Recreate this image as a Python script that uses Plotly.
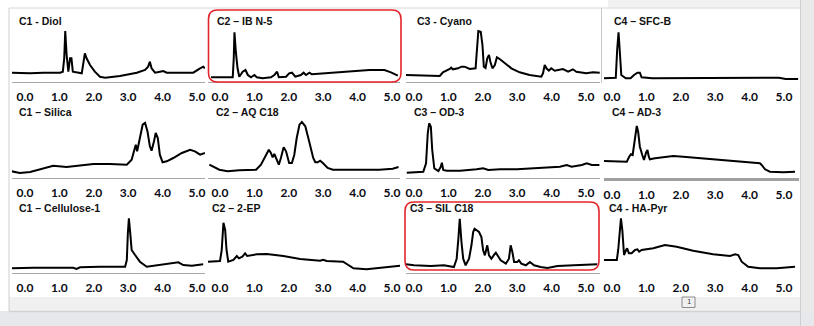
import plotly.graph_objects as go

W, H = 814, 326

tick_vals = [0, 1, 2, 3, 4, 5]
tick_text = ["0.0", "1.0", "2.0", "3.0", "4.0", "5.0"]

titles = ["C1 - Diol", "C2 – IB N-5", "C3 - Cyano", "C4 – SFC-B",
          "C1 – Silica", "C2 – AQ C18", "C3 – OD-3", "C4 – AD-3",
          "C1 – Cellulose-1", "C2 – 2-EP", "C3 – SIL C18", "C4 - HA-Pyr"]

# ---- chromatogram traces (time, min ; signal, a.u.) ----
diol_t = [-0.39, 0.15, 0.53, 1.02, 1.10, 1.14, 1.17, 1.21, 1.26, 1.31, 1.35, 1.39, 1.65, 1.69, 1.74, 1.79,
          1.89, 2.03, 2.18, 2.33, 2.76, 3.25, 3.49, 3.58, 3.63, 3.68, 3.78, 3.92, 4.02, 4.12, 4.89, 5.09, 5.18, 5.23]
diol_y = [9.3, 8.7, 9.3, 9.3, 10.3, 23.7, 51, 27, 10.3, 23.7, 23.7, 10.3, 8.7, 20.3, 28.7, 23.7,
          17, 10.3, 5.3, 4.3, 6, 9.3, 12, 15.3, 20.3, 13.7, 9.3, 10.3, 11, 9.3, 9.3, 13.7, 15.3, 13.7]

ibn5_t = [-0.26, 0.37, 0.40, 0.42, 0.46, 0.51, 0.56, 0.66, 0.74, 0.81, 0.90, 1.00, 1.07, 1.24, 1.48, 1.58, 1.66,
          1.71, 1.92, 2.01, 2.09, 2.19, 2.35, 2.43, 2.50, 2.60, 2.67, 3.08, 3.76, 4.34, 4.78, 4.97, 5.17]
ibn5_y = [4.7, 4.7, 23.7, 49.7, 30.3, 13.7, 5.3, 10.3, 12, 7, 4.7, 7, 4.7, 3.7, 4.7, 7, 10.3,
          4.7, 5.3, 8.7, 9.3, 5.3, 7, 9.3, 7, 9.3, 7.7, 8.7, 11, 12, 12, 9.7, 6.3]

cyano_t = [-0.27, 0.26, 0.75, 0.84, 0.94, 1.04, 1.08, 1.13, 1.28, 1.38, 1.47, 1.62, 1.79, 1.83, 1.87, 1.94, 1.99,
           2.03, 2.08, 2.13, 2.18, 2.22, 2.28, 2.35, 2.41, 2.49, 2.64, 2.83, 3.07, 3.36, 3.70, 3.75, 3.80, 3.85,
           3.92, 3.99, 4.09, 4.24, 4.33, 4.48, 4.62, 4.72, 5.01, 5.20, 5.40]
cyano_y = [7, 6.3, 6, 9.7, 11, 13, 14.3, 12.7, 13.7, 15.3, 15.3, 13, 13.7, 37, 51, 50.3, 37,
           15.3, 14, 23.7, 27, 20.3, 13.7, 17, 24.7, 23, 18.7, 13.7, 9.7, 7, 5.3, 8.7, 17, 13.7,
           11.3, 13.7, 11.3, 12, 13, 10.3, 12.7, 10.3, 8.7, 9.7, 9.3]

sfcb_t = [-0.26, 0.11, 0.15, 0.19, 0.23, 0.27, 0.40, 0.54, 0.64, 0.74, 0.81, 0.86, 1.17, 2.53, 4.66, 4.85, 5.05, 5.41]
sfcb_y = [3.7, 4.3, 32, 49.7, 28.7, 7, 3.7, 3.7, 7, 9.3, 9.3, 4.7, 3.7, 3.7, 4.3, 4.3, 3, 3]

silica_t = [-0.39, -0.15, 0.15, 0.44, 0.82, 1.21, 1.60, 1.99, 2.47, 2.96, 3.10, 3.17, 3.22, 3.26, 3.34, 3.42,
            3.49, 3.56, 3.63, 3.68, 3.75, 3.80, 3.86, 3.92, 4.00, 4.12, 4.31, 4.56, 4.80, 4.94, 5.09, 5.23]
silica_y = [6.7, 5, 6, 9, 12.3, 11, 12.3, 14, 14, 13.3, 18.3, 28.3, 33.3, 26.7, 40, 53.3,
            55, 46.7, 31.7, 27.3, 36.7, 45, 40, 23.3, 15.7, 16.7, 20, 25, 28.3, 26.7, 23.3, 25]

aqc18_t = [-0.31, -0.02, 0.22, 0.56, 1.05, 1.19, 1.32, 1.42, 1.48, 1.53, 1.58, 1.65, 1.71, 1.77, 1.85, 1.92,
           2.01, 2.09, 2.16, 2.23, 2.31, 2.38, 2.48, 2.58, 2.65, 2.71, 2.77, 2.84, 2.91, 2.99, 3.13, 3.28,
           3.95, 4.63, 5.02, 5.19]
aqc18_y = [13.3, 8.3, 6.7, 7.7, 8.3, 13.3, 21.7, 28.3, 25, 20.7, 24, 18.3, 13.3, 20, 30.7, 26.7,
           15, 15, 23.3, 40, 53.3, 56, 51.7, 38.3, 26.7, 20, 15.7, 15.7, 17.3, 15, 10, 8.3,
           8.3, 8.3, 9.3, 11]

od3_t = [-0.21, 0.27, 0.35, 0.40, 0.44, 0.49, 0.53, 0.59, 0.71, 0.78, 0.81, 0.85, 0.95, 1.34, 1.82, 2.01,
         2.16, 2.50, 2.99, 3.66, 4.24, 4.44, 4.58, 4.88, 5.02, 5.17, 5.39]
od3_y = [5.3, 6.3, 14.7, 44.7, 54.7, 51.3, 28, 9.7, 7, 11.3, 15.3, 8, 7.3, 7.3, 8.7, 9.7,
         8, 8.7, 8.7, 9.7, 11.3, 13, 11.3, 13, 14.7, 13, 13]

ad3_t = [-0.25, 0.43, 0.50, 0.55, 0.60, 0.67, 0.72, 0.76, 0.81, 0.88, 0.93, 0.99, 1.03, 1.07, 1.10, 1.25,
         1.78, 2.07, 3.04, 4.30, 4.35, 4.45, 4.59, 4.98, 5.32]
ad3_y = [17, 16.3, 21.3, 23.7, 23, 38, 52, 46.3, 31.3, 23, 18, 25.3, 28, 21.3, 18.7, 19.7,
         22, 21.3, 18.7, 14.7, 13, 8.7, 6.3, 5.7, 6.3]

cell_t = [-0.39, 0.24, 1.40, 1.50, 1.60, 2.18, 2.91, 2.96, 2.99, 3.02, 3.06, 3.10, 3.20, 3.34, 3.54, 3.73,
          4.02, 4.31, 4.46, 4.60, 4.85, 5.18]
cell_y = [4.7, 5.3, 5.3, 4, 5.7, 6.3, 6.3, 13, 39.7, 54.7, 39.7, 23, 18, 11.3, 6.3, 7.3,
          8.7, 10.3, 10.7, 8, 7.3, 8.7]

ep2_t = [-0.37, 0.00, 0.05, 0.10, 0.15, 0.19, 0.24, 0.39, 0.49, 0.55, 0.65, 0.73, 0.79, 1.07, 1.36, 1.84,
         2.33, 2.91, 3.00, 3.10, 3.58, 3.73, 3.88, 4.26, 4.75, 5.28]
ep2_y = [11.3, 12, 23, 50.3, 43, 23, 11.3, 13, 17, 14.7, 16.3, 19.7, 17, 18.7, 19, 17,
         14, 12.3, 13.3, 12, 11.3, 8, 4.7, 3.7, 5.3, 7.3]

silc18_t = [-0.24, 0.00, 0.49, 0.87, 1.16, 1.24, 1.29, 1.33, 1.38, 1.43, 1.50, 1.60, 1.67, 1.72, 1.76, 1.82,
            1.89, 1.96, 2.01, 2.06, 2.10, 2.13, 2.18, 2.25, 2.33, 2.38, 2.44, 2.52, 2.67, 2.76, 2.81, 2.86,
            2.91, 3.00, 3.05, 3.12, 3.25, 3.37, 3.49, 3.68, 3.88, 4.17, 4.65, 5.14, 5.33]
silc18_y = [8.7, 7.7, 7, 7.7, 6, 14.3, 34.3, 54.3, 31, 14.3, 7.7, 14.3, 27.7, 41, 44.3, 42.7,
            41, 36, 22.7, 17.7, 26, 27.7, 17.7, 14.3, 18.3, 20.3, 17, 12.7, 9.3, 14.3, 27.7, 21,
            11, 11, 12.7, 9.3, 7.7, 11, 7.7, 6, 5, 7, 7.7, 8.7, 8.7]

hapyr_t = [-0.25, 0.14, 0.18, 0.23, 0.26, 0.30, 0.35, 0.41, 0.44, 0.49, 0.57, 0.67, 0.74, 0.79, 0.86, 1.20,
           1.54, 1.88, 2.36, 2.94, 3.43, 3.58, 3.67, 3.77, 3.96, 4.30, 4.79, 5.32]
hapyr_y = [13, 13, 23, 46.3, 54.7, 43, 18, 23, 24.7, 19.7, 19.7, 23, 23.7, 21.3, 23, 24.7,
           28, 26.3, 22.3, 18.7, 17, 18.7, 18, 11.3, 6.3, 4.7, 4.7, 6.3]

series_t = [diol_t, ibn5_t, cyano_t, sfcb_t, silica_t, aqc18_t, od3_t, ad3_t, cell_t, ep2_t, silc18_t, hapyr_t]
series_y = [diol_y, ibn5_y, cyano_y, sfcb_y, silica_y, aqc18_y, od3_y, ad3_y, cell_y, ep2_y, silc18_y, hapyr_y]

# ---- layout geometry (pixels) ----
col_left = [12, 208, 406, 604]
col_right = [205, 400, 600, 799]
col_x0 = [25, 220, 414, 612]
px_per_min = 34.4
row_axis = [82, 178, 273]
panel_h = 60
title_x = [17, 215, 415, 612, 17, 214, 412, 610, 17, 210, 408, 607]
title_y = [21, 21, 21, 21, 112, 112, 112, 112, 208, 208, 208, 208]
# axis baseline style per panel: (width, colour) or None
axis_style = [(1, "#a8a8a8"), (1, "#a8a8a8"), (1, "#a8a8a8"), None,
              (1, "#a8a8a8"), (1, "#a8a8a8"), (1, "#a8a8a8"), (2.5, "#a0a0a0"),
              (1, "#a8a8a8"), None, (1, "#a8a8a8"), None]


def px(x):
    return x / W


def py(y):
    return 1 - y / H


fig = go.Figure()
layout = {}
annotations = []
for i in range(12):
    r, c = divmod(i, 4)
    n = i + 1
    fig.add_trace(go.Scatter(x=series_t[i], y=series_y[i], mode="lines",
                             line=dict(color="black", width=2),
                             xaxis=f"x{n}", yaxis=f"y{n}", showlegend=False, hoverinfo="skip"))
    st = axis_style[i]
    xname = "xaxis" if n == 1 else f"xaxis{n}"
    yname = "yaxis" if n == 1 else f"yaxis{n}"
    layout[xname] = dict(
        domain=[px(col_left[c]), px(col_right[c])],
        range=[(col_left[c] - col_x0[c]) / px_per_min, (col_right[c] - col_x0[c]) / px_per_min],
        anchor=f"y{n}", tickmode="array", tickvals=tick_vals, ticktext=tick_text,
        showgrid=False, zeroline=False,
        showline=st is not None, linecolor=st[1] if st else None, linewidth=st[0] if st else 1,
        ticks="outside", ticklen=4, tickcolor="rgba(0,0,0,0)",
        tickfont=dict(family="Lato", size=12, color="#0a0a14", weight="bold"),
        fixedrange=True,
    )
    a = row_axis[r]
    layout[yname] = dict(domain=[py(a), py(a - panel_h)], range=[0, panel_h],
                         anchor=f"x{n}", visible=False, fixedrange=True)
    annotations.append(dict(text=titles[i], x=px(title_x[i]), y=py(title_y[i]), xref="paper", yref="paper",
                            xanchor="left", yanchor="middle", showarrow=False,
                            font=dict(family="Liberation Sans", size=10.5, color="#111", weight="bold")))

annotations.append(dict(text="1", x=px(688.5), y=py(302), xref="paper", yref="paper", showarrow=False,
                        xanchor="center", yanchor="middle", font=dict(family="DejaVu Sans", size=7, color="#444")))


def rrect(x0, y0, x1, y1, rad):
    # rounded rectangle path in paper coordinates from pixel coordinates
    rx, ry = rad / W, rad / H
    X0, X1 = px(x0), px(x1)
    Y0, Y1 = py(y0), py(y1)  # Y0 top, Y1 bottom
    return (f"M {X0+rx},{Y0} L {X1-rx},{Y0} Q {X1},{Y0} {X1},{Y0-ry} "
            f"L {X1},{Y1+ry} Q {X1},{Y1} {X1-rx},{Y1} L {X0+rx},{Y1} Q {X0},{Y1} {X0},{Y1+ry} "
            f"L {X0},{Y0-ry} Q {X0},{Y0} {X0+rx},{Y0} Z")


def rect(x0, y0, x1, y1, fill, line=None, lw=0, layer="below"):
    return dict(type="rect", xref="paper", yref="paper", x0=px(x0), x1=px(x1), y0=py(y1), y1=py(y0),
                fillcolor=fill, line=dict(width=lw, color=line or fill), layer=layer)


def hline(x0, x1, y, color, w=1):
    return dict(type="line", xref="paper", yref="paper", x0=px(x0), x1=px(x1), y0=py(y), y1=py(y),
                line=dict(color=color, width=w), layer="below")


def vline(x, y0, y1, color, w=1):
    return dict(type="line", xref="paper", yref="paper", x0=px(x), x1=px(x), y0=py(y0), y1=py(y1),
                line=dict(color=color, width=w), layer="below")


shapes = [
    rect(608, 0, 800, 7.5, "#f1f1f1"),
    rect(800, 0, 814, 326, "#e9e9e9"),
    rect(9, 297, 800, 311, "#f0f0f0"),
    rect(0, 311, 814, 326, "#e6e8ec"),
    hline(9, 800, 311.5, "#d2d2d2", 1.5),
    hline(9, 800, 8, "#d6d6d6"),
    vline(9, 8, 311, "#cfcfcf"),
    vline(800.5, 0, 326, "#d0d0d0"),
    vline(601.5, 8, 83, "#c8c8c8"),
    rect(682, 297, 695, 307.5, "rgba(0,0,0,0)", "#8a8a8a", 1, "above"),
    dict(type="path", xref="paper", yref="paper", path=rrect(208.5, 10, 401, 82, 9),
         line=dict(color="#e3242b", width=1.6)),
    dict(type="path", xref="paper", yref="paper", path=rrect(405, 202, 599, 270, 9),
         line=dict(color="#e3242b", width=1.6)),
]

fig.update_layout(width=W, height=H, margin=dict(l=0, r=0, t=0, b=0), paper_bgcolor="white",
                  plot_bgcolor="rgba(0,0,0,0)", shapes=shapes, annotations=annotations, **layout)
fig.write_html("out.html")
